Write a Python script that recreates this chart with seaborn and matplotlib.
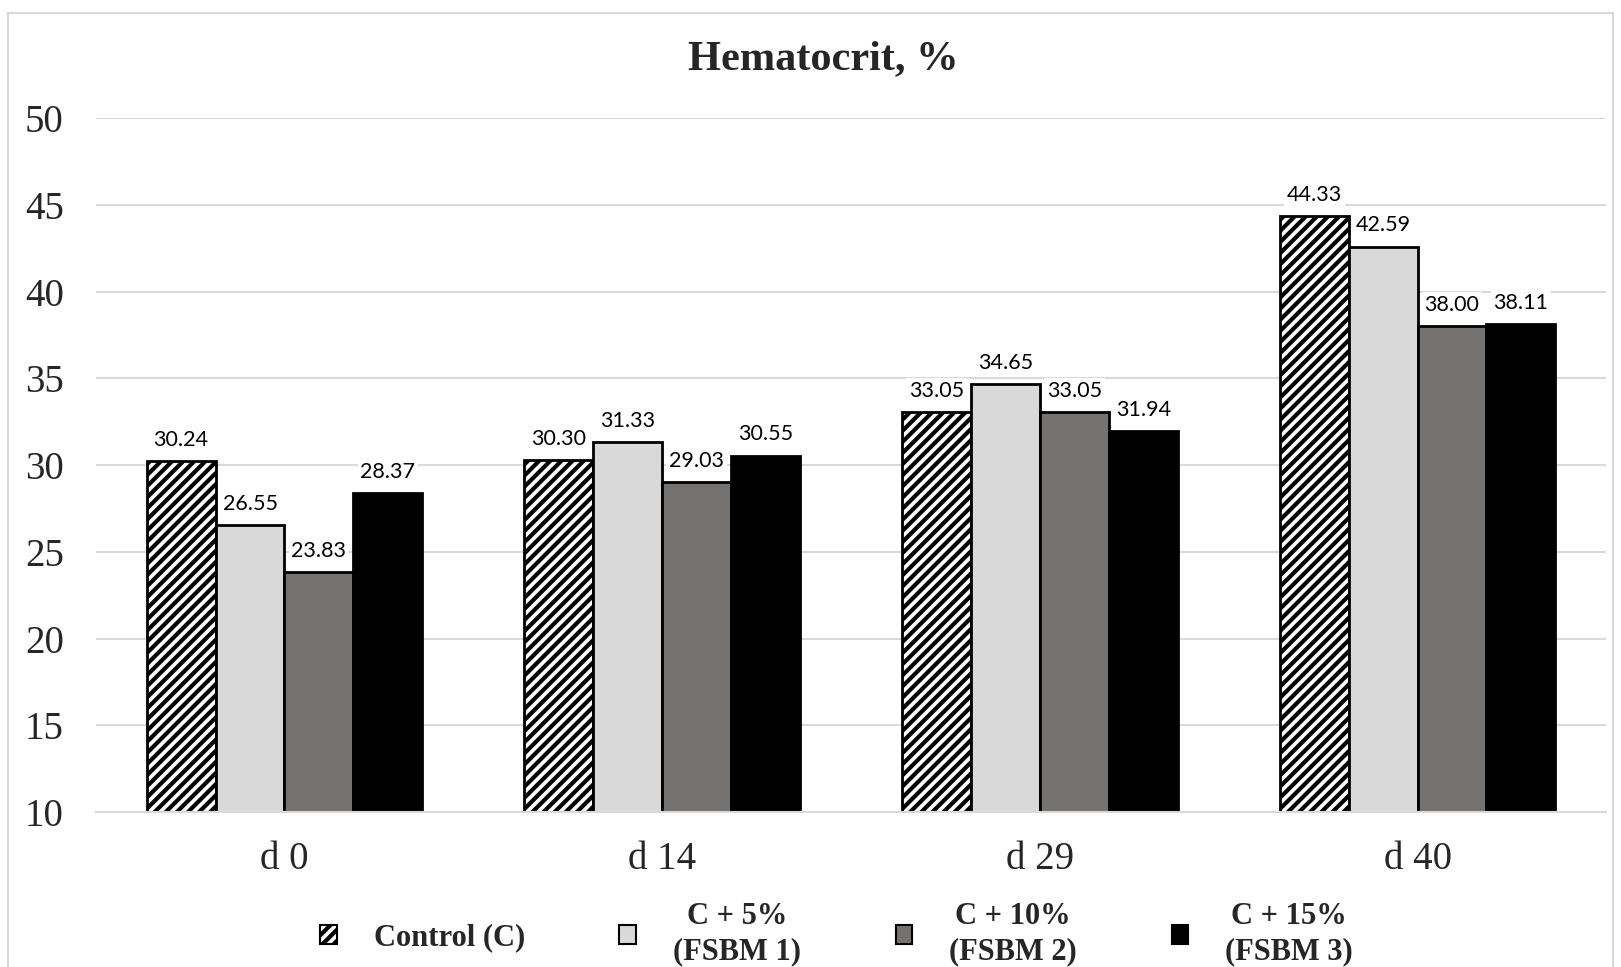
import matplotlib
matplotlib.use("Agg")
import matplotlib.pyplot as plt
from matplotlib.patches import Patch, Rectangle
import seaborn as sns
import pandas as pd

days = ["d 0", "d 14", "d 29", "d 40"]
groups = ["Control (C)", "C + 5%\n(FSBM 1)", "C + 10%\n(FSBM 2)", "C + 15%\n(FSBM 3)"]
control = [30.24, 30.30, 33.05, 44.33]
fsbm1 = [26.55, 31.33, 34.65, 42.59]
fsbm2 = [23.83, 29.03, 33.05, 38.00]
fsbm3 = [28.37, 30.55, 31.94, 38.11]
colors = ["#FFFFFF", "#D9D9D9", "#767171", "#000000"]

rows = []
for g, vals in zip(groups, [control, fsbm1, fsbm2, fsbm3]):
    for d, v in zip(days, vals):
        rows.append({"day": d, "group": g, "value": v})
df = pd.DataFrame(rows)

sns.set_theme(style="white")
plt.rcParams["hatch.linewidth"] = 3.0
plt.rcParams["hatch.color"] = "black"

fig = plt.figure(figsize=(16.21, 9.67), dpi=100)
ax = fig.add_axes([0.059, 0.160, 0.932, 0.718])

sns.barplot(data=df, x="day", y="value", hue="group", order=days, hue_order=groups,
            palette=colors, width=0.73, gap=0, edgecolor="black", linewidth=2,
            legend=False, ax=ax, zorder=2)

for i, cont in enumerate(ax.containers):
    for p in cont:
        if i == 0:
            p.set_hatch("///")
        p.set_edgecolor("black")
        p.set_linewidth(2)
    ax.bar_label(cont, fmt="%.2f", padding=8, fontsize=15.5, family="Lato", color="black",
                 bbox=dict(facecolor="white", edgecolor="none", pad=2), zorder=5)

ax.set_ylim(10, 50)
ax.set_yticks(range(10, 51, 5))
ax.set_xlim(-0.5, 3.5)
ax.grid(axis="y", color="#D9D9D9", linewidth=1.5, zorder=0)
ax.set_axisbelow(True)
for s in ["top", "right", "left"]:
    ax.spines[s].set_visible(False)
ax.spines["bottom"].set_color("#D9D9D9")
ax.spines["bottom"].set_linewidth(1.5)
ax.set_xlabel("")
ax.set_ylabel("")
ax.tick_params(axis="y", length=0, pad=23, labelsize=28)
ax.tick_params(axis="x", length=0, pad=21, labelsize=28)
for t in ax.get_xticklabels() + ax.get_yticklabels():
    t.set_family("Liberation Serif")

fig.text(0.508, 0.939, "Hematocrit, %", ha="center", va="center", fontsize=30.5,
         fontweight="bold", family="Liberation Serif")

handles = [Patch(facecolor=c, edgecolor="black", linewidth=1.5, hatch=("///" if i == 0 else None))
           for i, c in enumerate(colors)]
leg = fig.legend(handles, groups, loc="center", bbox_to_anchor=(0.516, 0.034), ncol=4,
                 frameon=False, handlelength=0.55, handleheight=0.6, columnspacing=3.1,
                 handletextpad=1.2,
                 prop={"family": "Liberation Serif", "weight": "bold", "size": 22})
for t in leg.get_texts():
    t.set_multialignment("center")
    t.set_linespacing(1.3)

fig.patches.append(Rectangle((0.005, -0.02), 0.99, 1.007, transform=fig.transFigure,
                             fill=False, edgecolor="#D9D9D9", linewidth=1.5))

fig.savefig("out.png", dpi=100)
